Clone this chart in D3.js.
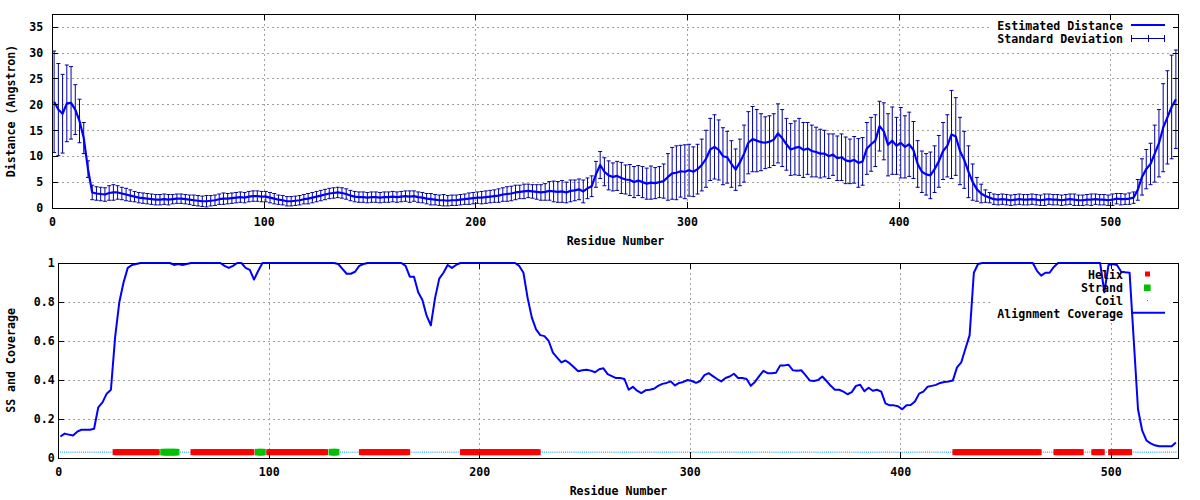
<!DOCTYPE html>
<html><head><meta charset="utf-8">
<script src="https://cdn.jsdelivr.net/npm/d3@7"></script>
<style>
html,body{margin:0;padding:0;background:#fff;}
svg{display:block;}
text{font-family:"DejaVu Sans Mono",monospace;font-weight:bold;font-size:11.6px;fill:#000;}
</style></head><body>
<svg id="chart" width="1200" height="500"></svg>
<script>
// ---------- DATA ----------
// residue numbers sampled every 2 residues (1,3,...,531)
const residues = d3.range(1, 532, 2);

const distance = [
  20.5,19.0,18.2,20.2,20.3,19.0,16.8,13.5,7.5,3.0,
  2.8,2.7,2.6,2.9,3.0,3.0,2.8,2.6,2.4,2.2,2.0,
  1.9,1.8,1.7,1.6,1.6,1.7,1.6,1.7,1.8,1.8,1.7,1.6,1.5,1.4,1.3,1.3,1.4,1.5,
  1.7,1.8,1.8,1.9,2.0,2.1,2.0,2.2,2.3,2.3,2.2,2.2,
  2.0,1.8,1.6,1.5,1.3,1.3,1.4,1.5,1.7,1.8,
  2.0,2.2,2.4,2.6,2.8,2.9,3.0,2.9,2.7,
  2.4,2.2,2.1,2.1,2.0,2.1,2.1,2.0,2.1,2.1,2.2,2.1,2.2,2.3,2.2,2.3,2.1,2.0,
  1.8,1.7,1.6,1.5,1.5,1.4,1.5,1.5,1.6,1.7,1.8,1.9,
  2.0,2.0,2.1,2.2,2.3,2.4,2.6,2.7,2.8,
  3.0,3.1,3.2,3.3,3.2,3.1,3.0,3.1,3.3,3.2,3.1,3.2,3.0,3.3,3.4,3.6,3.2,3.8,4.2,
  6.5,8.3,7.0,6.3,6.0,6.2,5.8,5.5,
  5.4,5.0,5.3,5.0,4.7,4.9,4.8,5.0,5.2,
  6.0,6.7,6.8,7.1,7.0,7.3,7.0,7.5,
  8.3,9.5,11.3,11.8,11.2,
  10.0,9.8,8.5,7.4,8.8,
  10.5,12.6,13.3,13.0,12.7,12.6,12.8,13.2,14.4,13.5,
  12.3,11.3,11.6,11.8,11.2,11.5,11.0,10.8,10.5,
  10.5,10.0,10.3,9.6,9.8,9.2,9.0,9.3,8.7,9.0,
  11.5,12.3,13.0,15.8,14.8,
  12.2,13.0,12.0,12.6,11.8,12.3,11.2,
  8.5,7.0,6.5,6.3,7.5,9.0,
  11.0,12.0,14.2,13.8,11.0,9.3,
  7.0,5.0,3.6,2.8,2.3,2.0,
  1.7,1.6,1.7,1.6,1.5,1.6,1.7,1.6,1.6,1.7,1.6,1.5,1.6,1.7,1.6,1.6,1.5,1.6,1.7,1.6,
  1.5,1.5,1.6,1.6,1.7,1.6,1.6,1.5,1.6,1.8,1.7,1.7,1.8,
  2.0,
  3.5,6.0,7.5,8.5,10.5,12.5,15.5,17.5,19.5,21.0
];

const deviation = [
  9.8,8.9,7.6,7.4,7.0,4.8,4.2,3.0,1.6,1.4,
  1.3,1.3,1.3,1.4,1.5,1.3,1.2,1.2,1.1,1.0,1.0,
  1.0,1.0,1.0,1.0,1.0,1.0,1.0,0.9,0.9,0.9,0.9,0.9,1.0,1.0,1.0,1.1,1.0,1.0,
  1.0,1.1,1.0,1.0,1.0,1.0,1.0,1.0,1.0,1.0,1.0,1.0,
  1.0,1.0,0.9,0.9,0.9,0.9,0.9,0.9,0.9,1.0,
  1.0,1.0,1.0,1.0,1.0,1.0,1.0,1.0,1.0,
  1.0,1.0,1.0,1.0,1.0,1.0,1.0,1.0,1.0,1.0,1.0,1.0,1.0,1.0,1.1,1.0,1.0,1.0,
  1.0,1.1,1.0,1.0,1.1,1.0,1.0,1.0,1.0,1.0,1.1,1.1,
  1.1,1.2,1.2,1.2,1.2,1.3,1.3,1.4,1.4,
  1.4,1.3,1.4,1.3,1.3,1.4,1.5,1.6,1.8,2.0,2.0,2.1,2.0,2.1,2.0,2.0,2.2,2.0,2.0,
  2.5,2.6,2.7,2.8,2.7,2.8,3.0,2.8,
  3.0,3.0,2.9,3.0,3.0,3.2,3.0,3.0,3.3,
  4.5,5.0,5.2,5.0,5.2,5.0,4.8,4.8,
  5.0,5.5,6.0,6.2,5.8,
  5.5,5.0,4.5,4.0,4.5,
  5.5,6.0,6.3,6.0,5.5,5.0,5.0,5.0,5.7,5.5,
  5.0,5.0,5.2,5.5,5.3,5.0,5.0,4.8,4.7,
  4.5,4.3,4.0,4.3,4.5,4.5,4.3,4.5,4.7,4.6,
  5.0,5.2,5.0,4.8,5.5,
  6.0,6.5,5.5,6.8,6.0,6.2,5.5,
  4.5,4.0,4.0,4.5,4.5,5.0,
  5.5,6.0,8.5,7.5,6.5,5.5,
  5.0,3.5,2.3,1.8,1.2,1.0,
  1.0,1.0,1.0,1.0,1.0,1.0,1.0,1.0,1.0,1.0,1.0,1.0,1.1,1.0,1.0,1.0,1.0,1.0,1.0,1.1,
  1.0,1.0,1.0,1.1,1.0,1.0,1.0,1.0,1.1,1.0,1.1,1.0,1.1,
  1.1,
  2.0,3.5,3.8,4.0,5.5,6.5,8.5,9.0,10.0,9.5
];

const coverage = [
  0.11,0.125,0.12,0.115,0.135,   0.145,0.145,0.145,0.15,0.26,
  0.285,0.33,0.35,0.62,0.8,      0.9,0.975,0.99,0.995,1,
  1,1,1,1,1,                     1,1,0.99,0.995,0.99,
  0.995,1,1,1,1,                 1,1,1,1,0.985,
  0.975,0.985,1,1,0.975,         0.965,0.915,0.96,1,1,
  1,1,1,1,1,                     1,1,1,1,1,
  1,1,1,1,1,                     1,0.995,0.97,0.945,0.945,
  0.955,0.985,0.995,1,1,         1,1,1,1,1,
  1,1,0.985,0.93,0.93,           0.85,0.81,0.73,0.68,0.82,
  0.92,0.95,0.99,0.975,0.99,     1,1,1,1,1,
  1,1,1,1,1,                     1,1,1,1,0.985,
  0.95,0.82,0.72,0.66,0.63,      0.625,0.6,0.54,0.515,0.49,
  0.5,0.485,0.465,0.445,0.45,    0.453,0.448,0.44,0.455,0.46,
  0.43,0.42,0.41,0.41,0.405,     0.35,0.365,0.345,0.333,0.347,
  0.35,0.355,0.37,0.38,0.385,    0.393,0.372,0.385,0.39,0.4,
  0.395,0.385,0.395,0.425,0.435, 0.42,0.405,0.393,0.41,0.418,
  0.432,0.41,0.41,0.405,0.37,    0.39,0.42,0.447,0.435,0.435,
  0.437,0.475,0.475,0.478,0.45,  0.448,0.45,0.425,0.398,0.395,
  0.4,0.418,0.395,0.37,0.35,     0.35,0.34,0.327,0.338,0.37,
  0.376,0.342,0.36,0.345,0.35,   0.34,0.28,0.27,0.27,0.265,
  0.25,0.27,0.272,0.29,0.33,     0.34,0.365,0.37,0.375,0.385,
  0.39,0.392,0.397,0.465,0.49,   0.56,0.63,0.95,0.995,1,
  1,1,1,1,1,                     1,1,1,1,1,
  1,1,0.96,0.935,0.95,           0.95,0.98,1,1,1,
  1,1,1,1,1,                     1,1,1,0.85,0.99,
  0.995,0.99,0.955,0.952,0.95,   0.6,0.25,0.14,0.09,0.075,
  0.065,0.06,0.06,0.06,0.06,     0.08
];

// secondary structure segments (residue ranges)
const helixRanges  = [[27,47],[64,92],[100,127],[144,166],[192,228],[426,466],[474,486],[492,496],[500,509]];
const strandRanges = [[50,56],[95,97],[130,132]];
const ssResidues = d3.range(1, 532);
const ssLevel = 0.03;

const xTicks = [0,100,200,300,400,500];
const distTicks = [0,5,10,15,20,25,30,35];
const covTicks = [0,0.2,0.4,0.6,0.8,1];

// ---------- DRAW ----------
const svg = d3.select("#chart");
svg.append("rect").attr("width",1200).attr("height",500).attr("fill","#fff");

const GRID = "#a0a0a0";
const LINE_BLUE = "#0000ff";
const ERR_BLUE = "#0000a0";

function panel(box, x, y, yTicks, yPad, yTitle, legendH){
  const g = svg.append("g");
  // grid
  g.append("g").selectAll("line").data(xTicks.filter(d=>d>0)).join("line")
    .attr("x1",d=>Math.round(x(d))+0.5).attr("x2",d=>Math.round(x(d))+0.5)
    .attr("y1",box.t).attr("y2",box.b)
    .attr("stroke",GRID).attr("stroke-dasharray","2,3").attr("shape-rendering","crispEdges");
  g.append("g").selectAll("line").data(yTicks.filter(d=>d>0 && y(d)>box.t+1)).join("line")
    .attr("y1",d=>Math.round(y(d))+0.5).attr("y2",d=>Math.round(y(d))+0.5)
    .attr("x1",box.l).attr("x2",box.r)
    .attr("stroke",GRID).attr("stroke-dasharray","2,3").attr("shape-rendering","crispEdges");
  // legend backdrop
  g.append("rect").attr("x",990).attr("y",box.t+1).attr("width",184).attr("height",legendH).attr("fill","#fff");
  // axes (ticks inward on all sides)
  const ax = (gen, tr) => {
    const a = g.append("g").attr("transform",tr).call(gen);
    a.select(".domain").remove();
    a.selectAll("line").attr("stroke","#000").attr("shape-rendering","crispEdges");
    return a;
  };
  g.axes = () => {
    ax(d3.axisBottom(x).tickValues(xTicks).tickSizeInner(-6).tickSizeOuter(0).tickPadding(10), `translate(0,${box.b})`);
    ax(d3.axisTop(x).tickValues(xTicks).tickSizeInner(-6).tickSizeOuter(0).tickFormat(""), `translate(0,${box.t})`);
    ax(d3.axisLeft(y).tickValues(yTicks).tickSizeInner(-6).tickSizeOuter(0).tickPadding(yPad).tickFormat(d3.format("")), `translate(${box.l},0)`);
    ax(d3.axisRight(y).tickValues(yTicks).tickSizeInner(-6).tickSizeOuter(0).tickFormat(""), `translate(${box.r},0)`);
    g.append("rect").attr("x",box.l+0.5).attr("y",box.t+0.5).attr("width",box.r-box.l-1).attr("height",box.b-box.t)
      .attr("fill","none").attr("stroke","#000").attr("shape-rendering","crispEdges");
    g.append("text").attr("x",(box.l+box.r)/2).attr("y",box.b+37).attr("text-anchor","middle").text("Residue Number");
    g.append("text").attr("transform",`translate(15,${(box.t+box.b)/2}) rotate(-90)`).attr("text-anchor","middle").text(yTitle);
  };
  return g;
}

// ---- top panel ----
const T = {l:52, r:1179, t:14, b:208};
const xT = d3.scaleLinear().domain([0,532]).range([T.l, 1178]);
const yT = d3.scaleLinear().domain([0,37.45]).range([T.b, T.t]);
const gT = panel(T, xT, yT, distTicks, 8.7, "Distance (Angstron)", 32);

const pts = residues.map((r,i)=>({r, d:distance[i], s:deviation[i]}));
const eb = gT.append("g").attr("stroke",ERR_BLUE).attr("stroke-width",1);
eb.selectAll("line.v").data(pts).join("line").attr("class","v")
  .attr("x1",p=>xT(p.r)).attr("x2",p=>xT(p.r))
  .attr("y1",p=>yT(Math.max(0,p.d-p.s))).attr("y2",p=>yT(p.d+p.s));
eb.selectAll("line.t").data(pts).join("line").attr("class","t")
  .attr("x1",p=>xT(p.r)-2).attr("x2",p=>xT(p.r)+2)
  .attr("y1",p=>yT(p.d+p.s)).attr("y2",p=>yT(p.d+p.s));
eb.selectAll("line.b").data(pts.filter(p=>p.d-p.s>0)).join("line").attr("class","b")
  .attr("x1",p=>xT(p.r)-2).attr("x2",p=>xT(p.r)+2)
  .attr("y1",p=>yT(p.d-p.s)).attr("y2",p=>yT(p.d-p.s));
gT.append("path").datum(pts)
  .attr("d",d3.line().x(p=>xT(p.r)).y(p=>yT(p.d)))
  .attr("fill","none").attr("stroke",LINE_BLUE).attr("stroke-width",2.2).attr("stroke-linejoin","round");
gT.axes();

// top legend
const lgT = gT.append("g");
lgT.append("text").attr("x",1123).attr("y",30).attr("text-anchor","end").text("Estimated Distance");
lgT.append("line").attr("x1",1131).attr("x2",1165).attr("y1",25).attr("y2",25).attr("stroke",LINE_BLUE).attr("stroke-width",2.2);
lgT.append("text").attr("x",1123).attr("y",43).attr("text-anchor","end").text("Standard Deviation");
const eLeg = lgT.append("g").attr("stroke",ERR_BLUE).attr("shape-rendering","crispEdges");
eLeg.append("line").attr("x1",1131).attr("x2",1165).attr("y1",38.5).attr("y2",38.5);
[1131.5,1148.5,1164.5].forEach(xx=>eLeg.append("line").attr("x1",xx).attr("x2",xx).attr("y1",35).attr("y2",42));

// ---- bottom panel ----
const B = {l:58, r:1179, t:263, b:458};
const xB = d3.scaleLinear().domain([0,532]).range([58.3, 1178]);
const yB = d3.scaleLinear().domain([0,1]).range([B.b, B.t]);
const gB = panel(B, xB, yB, covTicks, 3.3, "SS and Coverage", 58);

const inRanges = (r, rs) => rs.some(([a,b]) => r>=a && r<=b);
const ssType = ssResidues.map(r => inRanges(r, strandRanges) ? "E" : inRanges(r, helixRanges) ? "H" : "C");
const ssData = ssResidues.map((r,i)=>({r, t:ssType[i]}));
gB.append("g").selectAll("rect").data(ssData.filter(d=>d.t==="C")).join("rect")
  .attr("x",d=>xB(d.r)-0.5).attr("y",yB(ssLevel)-0.5).attr("width",1).attr("height",1).attr("fill","#0090ff");
gB.append("g").selectAll("rect").data(ssData.filter(d=>d.t==="H")).join("rect")
  .attr("x",d=>xB(d.r)-2.5).attr("y",yB(ssLevel)-3).attr("width",5).attr("height",6).attr("fill","#ff0000");
gB.append("g").selectAll("rect").data(ssData.filter(d=>d.t==="E")).join("rect")
  .attr("x",d=>xB(d.r)-3.3).attr("y",yB(ssLevel)-3.3).attr("width",6.6).attr("height",6.6).attr("fill","#00c000");

gB.append("path").datum(residues.map((r,i)=>({r, c:coverage[i]})))
  .attr("d",d3.line().x(p=>xB(p.r)).y(p=>yB(p.c)))
  .attr("fill","none").attr("stroke",LINE_BLUE).attr("stroke-width",2).attr("stroke-linejoin","round");
gB.axes();

// bottom legend
const lgB = gB.append("g");
const rowsB = [["Helix",278.5],["Strand",292],["Coil",305],["Alignment Coverage",318]];
rowsB.forEach(([t,yy])=>lgB.append("text").attr("x",1123).attr("y",yy).attr("text-anchor","end").text(t));
lgB.append("rect").attr("x",1145).attr("y",271.5).attr("width",5).attr("height",5).attr("fill","#ff0000");
lgB.append("rect").attr("x",1144).attr("y",284.5).attr("width",6.6).attr("height",6.6).attr("fill","#00c000");
lgB.append("rect").attr("x",1147).attr("y",300).attr("width",1).attr("height",1).attr("fill","#0090ff");
lgB.append("line").attr("x1",1131).attr("x2",1165).attr("y1",312.7).attr("y2",312.7).attr("stroke",LINE_BLUE).attr("stroke-width",2);

if (distance.length !== residues.length || deviation.length !== residues.length || coverage.length !== residues.length)
  console.error("length mismatch", residues.length, distance.length, deviation.length, coverage.length);
</script>
</body></html>
